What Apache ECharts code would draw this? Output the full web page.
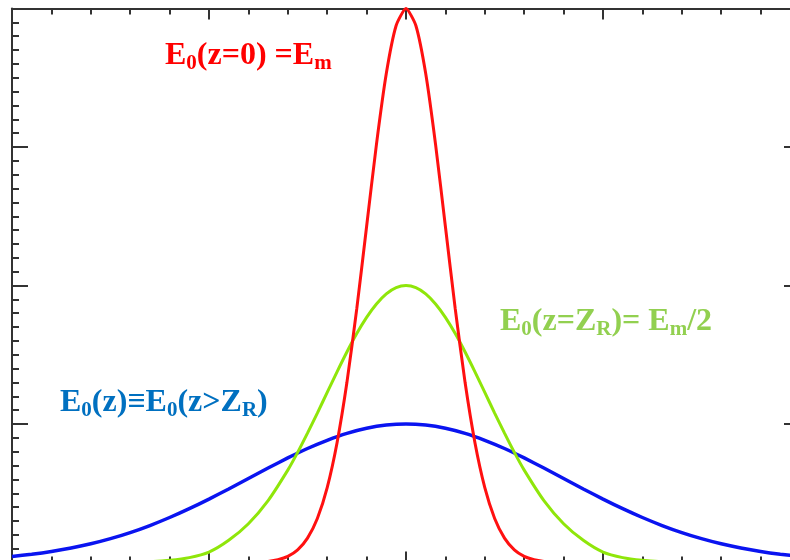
<!DOCTYPE html>
<html>
<head>
<meta charset="utf-8">
<script src="https://cdn.jsdelivr.net/npm/echarts@6/dist/echarts.min.js"></script>
<style>
  html, body { margin: 0; padding: 0; background: #fff; }
  #chart { width: 790px; height: 560px; }
</style>
</head>
<body>
<div id="chart"></div>
<script>
// x positions (normalised transverse coordinate)
const xWide = [-4, -3.8, -3.6, -3.4, -3.2, -3, -2.8, -2.6, -2.4, -2.2, -2, -1.8, -1.6, -1.4, -1.2, -1, -0.8, -0.6, -0.4, -0.2,
  0, 0.2, 0.4, 0.6, 0.8, 1, 1.2, 1.4, 1.6, 1.8, 2, 2.2, 2.4, 2.6, 2.8, 3, 3.2, 3.4, 3.6, 3.8, 4];
const xMid = [-4, -3.6, -3.2, -3, -2.8, -2.6, -2.4, -2.2, -2, -1.8, -1.6, -1.4, -1.2, -1.1, -1, -0.9, -0.8, -0.7, -0.6, -0.5, -0.4, -0.3, -0.2, -0.1,
  0, 0.1, 0.2, 0.3, 0.4, 0.5, 0.6, 0.7, 0.8, 0.9, 1, 1.1, 1.2, 1.4, 1.6, 1.8, 2, 2.2, 2.4, 2.6, 2.8, 3, 3.2, 3.6, 4];
const xNarrow = [-1.6, -1.5, -1.4, -1.3, -1.2, -1.1, -1, -0.9, -0.8, -0.7, -0.6, -0.5, -0.4, -0.3, -0.2, -0.1,
  0, 0.1, 0.2, 0.3, 0.4, 0.5, 0.6, 0.7, 0.8, 0.9, 1, 1.1, 1.2, 1.3, 1.4, 1.5, 1.6];

// E0(z=0) = Em  (red)
const redVals = [0.001, 0.003, 0.008, 0.020, 0.044, 0.091, 0.176, 0.318, 0.541, 0.865, 1.299, 1.831, 2.426, 3.019, 3.530, 3.877,
  4.000, 3.877, 3.530, 3.019, 2.426, 1.831, 1.299, 0.865, 0.541, 0.318, 0.176, 0.091, 0.044, 0.020, 0.008, 0.003, 0.001];

// E0(z=ZR) = Em/2  (green)
const greenVals = [0, 0, 0, 0.001, 0.003, 0.006, 0.016, 0.035, 0.075, 0.16, 0.28, 0.447, 0.667, 0.795, 0.934, 1.079, 1.228, 1.377, 1.52, 1.653, 1.77, 1.867, 1.94, 1.985,
  2.0, 1.985, 1.94, 1.867, 1.77, 1.653, 1.52, 1.377, 1.228, 1.079, 0.934, 0.795, 0.667, 0.447, 0.28, 0.16, 0.075, 0.035, 0.016, 0.006, 0.003, 0.001, 0, 0, 0];

// E0(z > ZR)  (blue)
const blueVals = [0.044, 0.060, 0.080, 0.105, 0.135, 0.172, 0.216, 0.267, 0.325, 0.389, 0.458, 0.531, 0.607, 0.682, 0.755, 0.823, 0.882, 0.932, 0.969, 0.992,
  1.000, 0.992, 0.969, 0.932, 0.882, 0.823, 0.755, 0.682, 0.607, 0.531, 0.458, 0.389, 0.325, 0.267, 0.216, 0.172, 0.135, 0.105, 0.080, 0.060, 0.044];

const pairs = (xs, ys) => xs.map((x, i) => [x, ys[i]]);

const chart = echarts.init(document.getElementById('chart'));

const axisColor = '#333';
const xAxisBase = {
  type: 'value', min: -4, max: 4, interval: 2,
  axisLine: { show: true, onZero: false, lineStyle: { color: axisColor, width: 2 } },
  axisTick: { show: true, inside: true, length: 11, lineStyle: { color: axisColor, width: 2 } },
  minorTick: { show: true, splitNumber: 5, length: 6, lineStyle: { color: axisColor, width: 2 } },
  axisLabel: { show: false },
  splitLine: { show: false }
};
const yAxisBase = {
  type: 'value', min: 0, max: 4, interval: 1,
  axisLine: { show: true, onZero: false, lineStyle: { color: axisColor, width: 2 } },
  axisTick: { show: true, inside: true, length: 16, lineStyle: { color: axisColor, width: 2 } },
  minorTick: { show: true, splitNumber: 10, length: 7, lineStyle: { color: axisColor, width: 2 } },
  axisLabel: { show: false },
  splitLine: { show: false }
};

const fontBase = { fontFamily: 'Liberation Serif', fontWeight: 'bold' };
const rich = (color) => ({
  m: Object.assign({ fontSize: 32, lineHeight: 36, fill: color }, fontBase),
  s: Object.assign({ fontSize: 21, verticalAlign: 'bottom', fill: color }, fontBase)
});

const label = (x, y, text, color) => ({
  type: 'text', x: x, y: y, z: 100,
  style: { text: text, rich: rich(color), align: 'left', verticalAlign: 'middle' }
});

chart.setOption({
  animation: false,
  grid: { left: 12, right: -10, top: 8.5, bottom: -2.5, containLabel: false, outerBoundsMode: 'none' },
  xAxis: [
    Object.assign({ position: 'bottom' }, xAxisBase),
    Object.assign({ position: 'top' }, xAxisBase)
  ],
  yAxis: [
    Object.assign({ position: 'left' }, yAxisBase),
    Object.assign({ position: 'right' }, yAxisBase)
  ],
  series: [
    { name: 'far', type: 'line', data: pairs(xWide, blueVals), showSymbol: false, smooth: 0.2,
      lineStyle: { color: '#0a14f0', width: 3.5 } },
    { name: 'zr', type: 'line', data: pairs(xMid, greenVals), showSymbol: false, smooth: 0.2,
      lineStyle: { color: '#8fe60a', width: 3 } },
    { name: 'waist', type: 'line', data: pairs(xNarrow, redVals), showSymbol: false, smooth: 0.2,
      lineStyle: { color: '#ff1010', width: 3 } }
  ],
  graphic: [
    label(165, 56, '{m|E}{s|0}{m|(z=0) =E}{s|m}', '#ff0000'),
    label(500, 322, '{m|E}{s|0}{m|(z=Z}{s|R}{m|)= E}{s|m}{m|/2}', '#92d050'),
    label(60, 403, '{m|E}{s|0}{m|(z)≡E}{s|0}{m|(z>Z}{s|R}{m|)}', '#0070c0')
  ]
});
</script>
</body>
</html>
